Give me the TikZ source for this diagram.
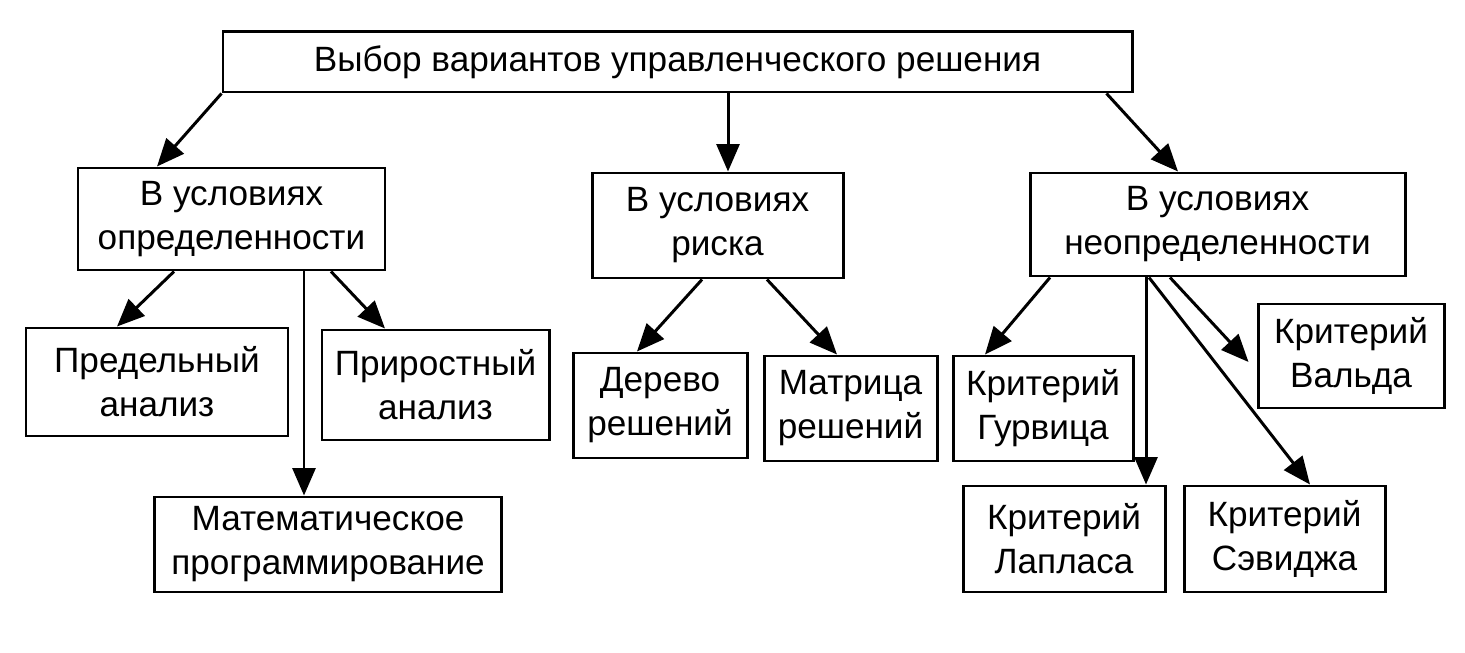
\documentclass[tikz,border=0pt]{standalone}
\usepackage{fontspec}
\setmainfont{Liberation Sans}
\usetikzlibrary{arrows.meta}
\usetikzlibrary{positioning}
\tikzset{
    box/.style={
           rectangle,
           draw=black, line width=1.7pt,
           inner sep=0pt,
           align=center,
           font=\fontsize{20}{25}\selectfont,
           },
}

\begin{document}
\begin{tikzpicture}[->,>={Triangle[length=5.5mm,width=4.6mm]},line width=1.7pt]
        \useasboundingbox (0,0) rectangle (29.3,-13.06);

        % ROOT: choice of the decision
        \node[box,
            minimum width=18.18cm,
            minimum height=1.2cm] (V_TOP) at (13.55,-1.24)
        {Выбор вариантов управленческого решения};

        % LEVEL 1: certainty / risk / uncertainty
        \node[box,
            minimum width=6.14cm, minimum height=2.04cm,
            below of=V_TOP,
            node distance=3.14cm,
            xshift=-8.92cm,
            anchor=center] (V_CERT)
        {В условиях\\определенности};

        \node[box,
            minimum width=5.02cm, minimum height=2.1cm,
            below of=V_TOP,
            node distance=3.27cm,
            xshift=0.8cm,
            anchor=center] (V_RISK)
        {В условиях\\риска};

        \node[box,
            minimum width=7.5cm, minimum height=2.06cm,
            below of=V_TOP,
            node distance=3.25cm,
            xshift=10.8cm,
            anchor=center] (V_UNCERT)
        {В условиях\\неопределенности};

        % under certainty
        \node[box,
            minimum width=5.24cm, minimum height=2.16cm,
            below of=V_CERT,
            node distance=3.26cm,
            xshift=-1.49cm,
            anchor=center] (V_MARG)
        {Предельный\\анализ};

        \node[box,
            minimum width=4.54cm, minimum height=2.2cm,
            below of=V_CERT,
            node distance=3.32cm,
            xshift=4.08cm,
            anchor=center] (V_INCR)
        {Приростный\\анализ};

        \node[box,
            minimum width=6.94cm, minimum height=1.9cm,
            below of=V_CERT,
            node distance=6.51cm,
            xshift=1.93cm,
            anchor=center] (V_MATH)
        {Математическое\\программирование};

        % under risk
        \node[box,
            minimum width=3.48cm, minimum height=2.1cm,
            below of=V_RISK,
            node distance=3.6cm,
            xshift=-1.15cm,
            anchor=center] (V_TREE)
        {Дерево\\решений};

        \node[box,
            minimum width=3.46cm, minimum height=2.1cm,
            right of=V_TREE,
            node distance=3.81cm,
            yshift=-0.6mm,
            anchor=center] (V_MATRIX)
        {Матрица\\решений};

        % under uncertainty
        \node[box,
            minimum width=3.6cm, minimum height=2.1cm,
            right of=V_MATRIX,
            node distance=3.85cm,
            anchor=center] (V_HURW)
        {Критерий\\Гурвица};

        \node[box,
            minimum width=3.72cm, minimum height=2.08cm,
            below of=V_UNCERT,
            node distance=2.63cm,
            xshift=2.67cm,
            anchor=center] (V_WALD)
        {Критерий\\Вальда};

        \node[box,
            minimum width=4.04cm, minimum height=2.12cm,
            below of=V_UNCERT,
            node distance=6.29cm,
            xshift=-3.07cm,
            anchor=center] (V_LAPL)
        {Критерий\\Лапласа};

        \node[box,
            minimum width=4.02cm, minimum height=2.12cm,
            right of=V_LAPL,
            node distance=4.41cm,
            anchor=center] (V_SAVAGE)
        {Критерий\\Сэвиджа};

        % arrows
        \path
            (V_TOP.south west)                          edge ([xshift=-14.9mm]V_CERT.north)
            ([xshift=2.1mm]V_RISK.north |- V_TOP.south)  edge ([xshift=2.1mm]V_RISK.north)
            ([xshift=-5.4mm]V_TOP.south east)           edge ([xshift=-7.9mm]V_UNCERT.north)
            ([xshift=-11.5mm]V_CERT.south)              edge ([xshift=-8mm]V_MARG.north)
            ([xshift=-4.8mm]V_MATH.north |- V_CERT.south) edge ([xshift=-4.8mm]V_MATH.north)
            ([xshift=19.9mm]V_CERT.south)               edge ([xshift=-10.1mm]V_INCR.north)
            ([xshift=-3.1mm]V_RISK.south)               edge ([xshift=-4.6mm]V_TREE.north)
            ([xshift=9.9mm]V_RISK.south)                edge ([xshift=-2.7mm]V_MATRIX.north)
            ([xshift=-33.5mm]V_UNCERT.south)            edge ([xshift=-11.6mm]V_HURW.north)
            ([xshift=16.4mm]V_LAPL.north |- V_UNCERT.south) edge ([xshift=16.4mm]V_LAPL.north)
            ([xshift=-13.7mm]V_UNCERT.south)            edge ([xshift=5.1mm]V_SAVAGE.north)
            ([xshift=-9.5mm]V_UNCERT.south)             edge ([xshift=-1.6mm,yshift=-1.2mm]V_WALD.west)
            ;

\end{tikzpicture}
\end{document}
